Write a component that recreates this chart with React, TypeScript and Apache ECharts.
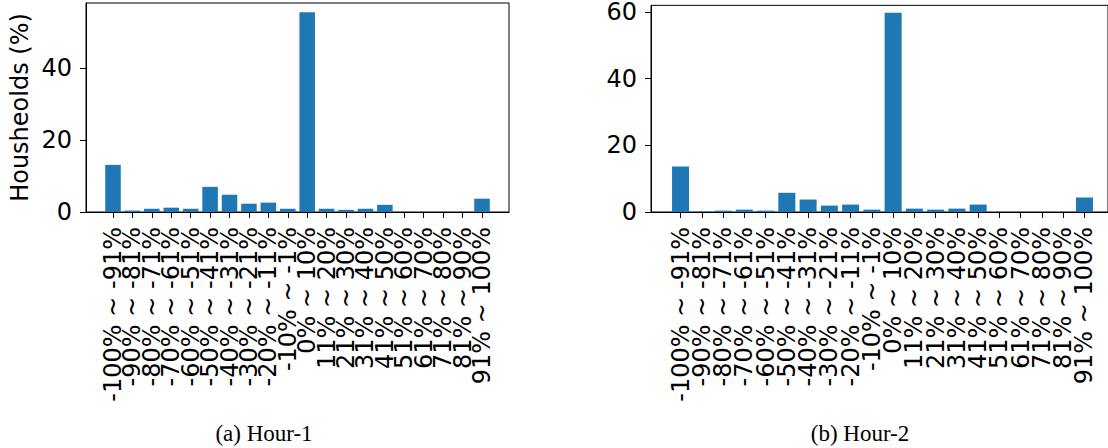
import React, { useEffect, useRef } from "react";
import * as echarts from "echarts";

const categories = [
  "-100% ~ -91%", "-90% ~ -81%", "-80% ~ -71%", "-70% ~ -61%", "-60% ~ -51%",
  "-50% ~ -41%", "-40% ~ -31%", "-30% ~ -21%", "-20% ~ -11%", "-10% ~ -1%",
  "0% ~ 10%", "11% ~ 20%", "21% ~ 30%", "31% ~ 40%", "41% ~ 50%",
  "51% ~ 60%", "61% ~ 70%", "71% ~ 80%", "81% ~ 90%", "91% ~ 100%",
];
const hour1 = [13.1, 0.4, 0.9, 1.2, 0.9, 7.0, 4.8, 2.3, 2.6, 0.9, 55.5, 0.9, 0.6, 0.9, 2.0, 0, 0, 0, 0, 3.7];
const hour2 = [13.5, 0.1, 0.4, 0.7, 0.4, 5.7, 3.7, 1.9, 2.2, 0.7, 59.1, 1.0, 0.7, 1.0, 2.2, 0, 0, 0, 0, 4.3];
const captions = ["(a) Hour-1", "(b) Hour-2"];
const yName = "Housheolds (%)";

const FONT = "'DejaVu Sans', sans-serif";
const FS = 24;
const BLACK = "#000";

// matplotlib-like x margins around the bands
const N = categories.length;
const pad = 0.89;
const span = N + 2 * pad;

function panel(left: number, width: number) {
  const unit = width / span;
  return { outer: { left, width }, inner: { left: left + pad * unit, width: N * unit } };
}

const P1 = panel(86, 423);
const P2 = panel(651, 463);
const TOP = 3;
const H = 209;

function yAxisOuter(gridIndex: number, max: number, name?: string) {
  return {
    type: "value",
    gridIndex,
    min: 0,
    max,
    interval: 20,
    name,
    nameLocation: "middle",
    nameRotate: 90,
    nameGap: 54,
    nameTextStyle: { fontSize: FS, fontFamily: FONT, color: BLACK },
    axisLine: { show: true, lineStyle: { color: BLACK, width: 1 } },
    axisTick: { show: true, length: 6, lineStyle: { color: BLACK, width: 1 } },
    axisLabel: { show: true, margin: 14, fontSize: FS, lineHeight: 18, fontFamily: FONT, color: BLACK, showMaxLabel: false },
    splitLine: { show: false },
  };
}

function yAxisInner(gridIndex: number, max: number) {
  return {
    type: "value",
    gridIndex,
    min: 0,
    max,
    show: false,
    splitLine: { show: false },
  };
}

function xAxisOuter(gridIndex: number) {
  return {
    type: "value",
    gridIndex,
    min: 0,
    max: 1,
    axisLine: { show: true, onZero: false, lineStyle: { color: BLACK, width: 1 } },
    axisTick: { show: false },
    axisLabel: { show: false },
    splitLine: { show: false },
  };
}

function xAxisInner(gridIndex: number) {
  return {
    type: "category",
    gridIndex,
    data: categories,
    boundaryGap: true,
    axisLine: { show: false },
    axisTick: { show: true, alignWithLabel: true, length: 6, interval: 0, lineStyle: { color: BLACK, width: 1 } },
    axisLabel: {
      show: true,
      interval: 0,
      rotate: 90,
      margin: 15,
      fontSize: FS,
      fontFamily: FONT,
      color: BLACK,
    },
    splitLine: { show: false },
  };
}

export default function App() {
  const ref = useRef<HTMLDivElement>(null);
  useEffect(() => {
    if (!ref.current) return;
    const chart = echarts.init(ref.current, undefined, { renderer: "svg" });
    const capStyle = { fontSize: 23, fontFamily: "'Liberation Serif', serif", fill: BLACK, textAlign: "center", textVerticalAlign: "middle" };
    chart.setOption({
      animation: false,
      backgroundColor: "#fff",
      grid: [
        { left: P1.outer.left, top: TOP, width: P1.outer.width, height: H, show: true, borderColor: BLACK, borderWidth: 1, backgroundColor: "transparent" },
        { left: P2.outer.left, top: TOP, width: P2.outer.width, height: H, show: true, borderColor: BLACK, borderWidth: 1, backgroundColor: "transparent" },
        { left: P1.inner.left, top: TOP, width: P1.inner.width, height: H },
        { left: P2.inner.left, top: TOP, width: P2.inner.width, height: H },
      ],
      xAxis: [xAxisOuter(0), xAxisOuter(1), xAxisInner(2), xAxisInner(3)],
      yAxis: [yAxisOuter(0, 58.1, yName), yAxisOuter(1, 62), yAxisInner(2, 58.1), yAxisInner(3, 62)],
      series: [
        {
          type: "bar",
          xAxisIndex: 2,
          yAxisIndex: 2,
          barWidth: "80%",
          itemStyle: { color: "#1f77b4" },
          data: hour1,
        },
        {
          type: "bar",
          xAxisIndex: 3,
          yAxisIndex: 3,
          barWidth: "80%",
          itemStyle: { color: "#1f77b4" },
          data: hour2,
        },
      ],
      graphic: [
        { type: "text", x: 264, y: 433, style: { ...capStyle, text: captions[0] } },
        { type: "text", x: 860, y: 433, style: { ...capStyle, text: captions[1] } },
      ],
    });
    return () => chart.dispose();
  }, []);
  return <div ref={ref} style={{ position: "fixed", left: 0, top: 0, width: 1108, height: 448 }} />;
}
